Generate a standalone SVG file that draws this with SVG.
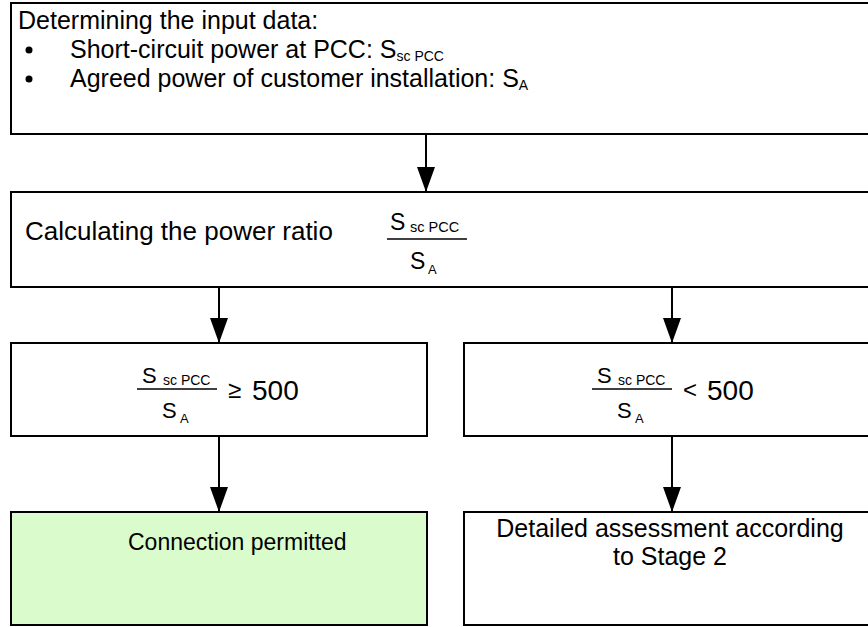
<svg xmlns="http://www.w3.org/2000/svg" width="868" height="627" viewBox="0 0 868 627">
<defs>
<style>
.box{fill:#ffffff;stroke:#000000;stroke-width:2}
.green{fill:#dafbcb}
.t{font-family:"Liberation Sans",Arial,sans-serif;fill:#000000}
.big{font-size:25px}
.s{font-size:22px}
.sub{font-size:14px}
.conn{stroke:#000000;stroke-width:2;fill:none}
.bar{stroke:#000000;stroke-width:1.5}
</style>
<marker id="ah" markerUnits="userSpaceOnUse" markerWidth="25" markerHeight="18" viewBox="0 0 25 18" refX="25" refY="9" orient="auto">
<path d="M0,0 L25,9 L0,18 Z" fill="#000000"/>
</marker>
</defs>
<rect width="868" height="627" fill="#ffffff"/>

<g id="node-input">
<rect class="box" x="11" y="3" width="869" height="131"/>
<text class="t big" x="18" y="29">Determining the input data:</text>
<circle cx="29" cy="50" r="3.5" fill="#000"/>
<text class="t big" x="70" y="58">Short-circuit power at PCC: S<tspan class="sub" dy="3">sc PCC</tspan></text>
<circle cx="29" cy="79" r="3.5" fill="#000"/>
<text class="t big" x="70" y="87">Agreed power of customer installation: S<tspan class="sub" dy="3">A</tspan></text>
</g>

<g id="node-ratio">
<rect class="box" x="11" y="192" width="869" height="95"/>
<text class="t" style="font-size:26px" x="25" y="240">Calculating the power ratio</text>
<text class="t" style="font-size:23px" x="390" y="230">S</text>
<text class="t" style="font-size:14.5px" x="410" y="232">sc PCC</text>
<line class="bar" x1="387" y1="239" x2="467" y2="239"/>
<text class="t" style="font-size:23px" x="410" y="269">S</text>
<text class="t" style="font-size:13px" x="428" y="274">A</text>
</g>

<g id="node-ge500">
<rect class="box" x="11" y="343" width="416" height="93"/>
<text class="t s" x="142" y="383">S</text>
<text class="t sub" x="163" y="385">sc PCC</text>
<line class="bar" x1="137" y1="389" x2="217" y2="389"/>
<text class="t s" x="162" y="418">S</text>
<text class="t" style="font-size:13px" x="180" y="423">A</text>
<text class="t" style="font-size:24px" x="228" y="398">≥</text>
<text class="t" style="font-size:28px" x="252" y="400">500</text>
</g>

<g id="node-lt500">
<rect class="box" x="464" y="343" width="416" height="93"/>
<text class="t s" x="597" y="383">S</text>
<text class="t sub" x="618" y="385">sc PCC</text>
<line class="bar" x1="592" y1="389" x2="672" y2="389"/>
<text class="t s" x="617" y="418">S</text>
<text class="t" style="font-size:13px" x="635" y="423">A</text>
<text class="t" style="font-size:24px" x="683" y="398">&lt;</text>
<text class="t" style="font-size:28px" x="707" y="400">500</text>
</g>

<g id="node-permitted">
<rect class="box green" x="11" y="512" width="416" height="113"/>
<text class="t" style="font-size:23px" x="128" y="550">Connection permitted</text>
</g>

<g id="node-stage2">
<rect class="box" x="464" y="512" width="416" height="113"/>
<text class="t" style="font-size:25px" text-anchor="middle" x="670" y="537">Detailed assessment according</text>
<text class="t" style="font-size:25px" text-anchor="middle" x="670" y="565">to Stage 2</text>
</g>

<g id="connectors">
<line class="conn" x1="426" y1="134" x2="426" y2="192" marker-end="url(#ah)"/>
<line class="conn" x1="219" y1="287" x2="219" y2="343" marker-end="url(#ah)"/>
<line class="conn" x1="672" y1="287" x2="672" y2="343" marker-end="url(#ah)"/>
<line class="conn" x1="219" y1="436" x2="219" y2="512" marker-end="url(#ah)"/>
<line class="conn" x1="672" y1="436" x2="672" y2="512" marker-end="url(#ah)"/>
</g>
</svg>
